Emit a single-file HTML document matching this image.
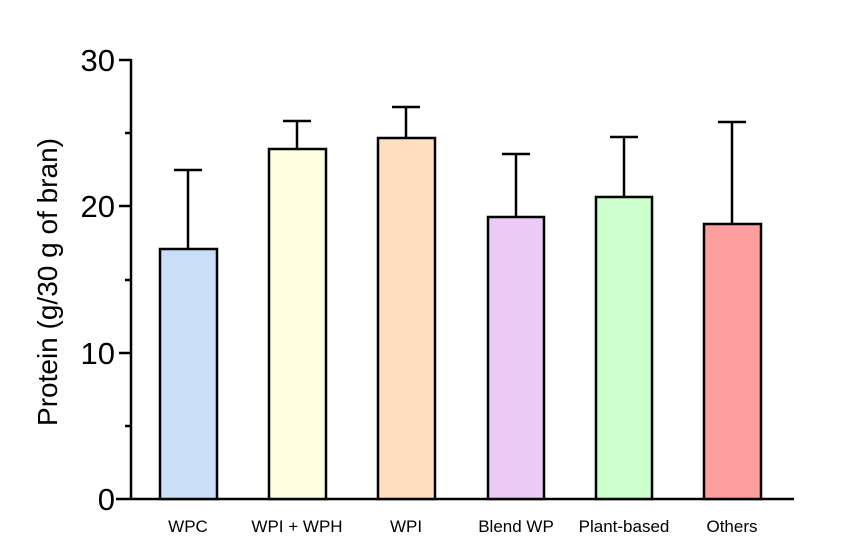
<!DOCTYPE html>
<html><head><style>body{margin:0;background:#fff}</style></head><body>
<svg width="853" height="553" xmlns="http://www.w3.org/2000/svg" font-family="Liberation Sans, Arial, sans-serif">
<rect width="853" height="553" fill="#fff"/>
<g stroke="#000" stroke-width="2.5" fill="none">
<line x1="131" y1="59" x2="131" y2="500"/>
<line x1="116" y1="499" x2="794" y2="499"/>
<line x1="119" y1="60" x2="131" y2="60"/>
<line x1="119" y1="206" x2="131" y2="206"/>
<line x1="119" y1="353" x2="131" y2="353"/>
<line x1="125" y1="133" x2="131" y2="133"/>
<line x1="125" y1="280" x2="131" y2="280"/>
<line x1="125" y1="426" x2="131" y2="426"/>
</g>
<g font-size="31" text-anchor="end" fill="#000">
<text x="115" y="71">30</text><text x="115" y="217">20</text><text x="115" y="364">10</text><text x="115" y="510">0</text>
</g>
<text transform="translate(57,282) rotate(-90)" font-size="28" text-anchor="middle">Protein (g/30 g of bran)</text>
<g stroke="#000" stroke-width="2.5">
<line x1="188" y1="249" x2="188" y2="170"/><line x1="174" y1="170" x2="202" y2="170"/>
<line x1="297" y1="149" x2="297" y2="121"/><line x1="283" y1="121" x2="311" y2="121"/>
<line x1="406" y1="138" x2="406" y2="107"/><line x1="392" y1="107" x2="420" y2="107"/>
<line x1="516" y1="217" x2="516" y2="154"/><line x1="502" y1="154" x2="530" y2="154"/>
<line x1="624" y1="197" x2="624" y2="137"/><line x1="610" y1="137" x2="638" y2="137"/>
<line x1="732" y1="224" x2="732" y2="122"/><line x1="718" y1="122" x2="746" y2="122"/>
<rect x="160" y="249" width="57" height="250" fill="#c9def7"/>
<rect x="269" y="149" width="57" height="350" fill="#fefee3"/>
<rect x="378" y="138" width="57" height="361" fill="#ffdfc0"/>
<rect x="488" y="217" width="56" height="282" fill="#ebcbf5"/>
<rect x="596" y="197" width="56" height="302" fill="#ccffcc"/>
<rect x="704" y="224" width="57" height="275" fill="#ff9e9e"/>
</g>
<g font-size="17" text-anchor="middle" fill="#000">
<text x="188" y="532">WPC</text><text x="297" y="532">WPI + WPH</text><text x="406" y="532">WPI</text>
<text x="516" y="532">Blend WP</text><text x="624" y="532">Plant-based</text><text x="732" y="532">Others</text>
</g>
</svg>
</body></html>
